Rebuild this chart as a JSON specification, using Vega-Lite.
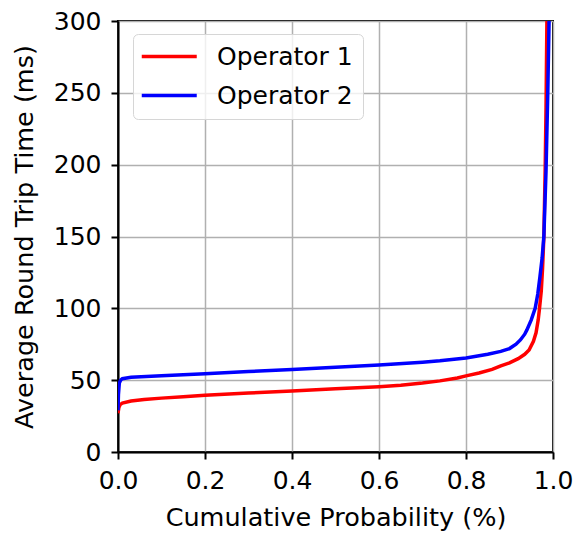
{
  "$schema": "https://vega.github.io/schema/vega-lite/v6.json",
  "width": 435,
  "height": 431,
  "autosize": {"type": "none"},
  "padding": {"left": 118, "top": 21, "right": 23, "bottom": 84},
  "background": "white",
  "config": {
    "font": "DejaVu Sans",
    "view": {"stroke": "black", "strokeWidth": 2},
    "axis": {
      "labelFont": "DejaVu Sans",
      "titleFont": "DejaVu Sans",
      "labelFontSize": 25,
      "titleFontSize": 25.5,
      "titleFontWeight": "normal",
      "labelColor": "black",
      "titleColor": "black",
      "domainColor": "black",
      "domainWidth": 2,
      "tickColor": "black",
      "tickWidth": 2,
      "tickSize": 7,
      "gridColor": "#b0b0b0",
      "gridWidth": 1.5,
      "gridOpacity": 1
    },
    "legend": {
      "labelFont": "DejaVu Sans",
      "labelFontSize": 25,
      "labelColor": "black"
    }
  },
  "data": {
    "values": [
      {"op": "Operator 1", "p": 0.0, "rtt": 27},
      {"op": "Operator 1", "p": 0.002, "rtt": 31},
      {"op": "Operator 1", "p": 0.005, "rtt": 33},
      {"op": "Operator 1", "p": 0.01, "rtt": 34},
      {"op": "Operator 1", "p": 0.03, "rtt": 35.5},
      {"op": "Operator 1", "p": 0.06, "rtt": 36.5},
      {"op": "Operator 1", "p": 0.1, "rtt": 37.5},
      {"op": "Operator 1", "p": 0.15, "rtt": 38.5},
      {"op": "Operator 1", "p": 0.2, "rtt": 39.5},
      {"op": "Operator 1", "p": 0.3, "rtt": 41},
      {"op": "Operator 1", "p": 0.4, "rtt": 42.5},
      {"op": "Operator 1", "p": 0.5, "rtt": 44},
      {"op": "Operator 1", "p": 0.6, "rtt": 45.5},
      {"op": "Operator 1", "p": 0.65, "rtt": 46.5},
      {"op": "Operator 1", "p": 0.7, "rtt": 48},
      {"op": "Operator 1", "p": 0.74, "rtt": 49.5},
      {"op": "Operator 1", "p": 0.78, "rtt": 51.5},
      {"op": "Operator 1", "p": 0.8, "rtt": 53},
      {"op": "Operator 1", "p": 0.83, "rtt": 55},
      {"op": "Operator 1", "p": 0.86, "rtt": 57.5},
      {"op": "Operator 1", "p": 0.88, "rtt": 60},
      {"op": "Operator 1", "p": 0.9, "rtt": 62},
      {"op": "Operator 1", "p": 0.92, "rtt": 65},
      {"op": "Operator 1", "p": 0.935, "rtt": 68},
      {"op": "Operator 1", "p": 0.945, "rtt": 71},
      {"op": "Operator 1", "p": 0.955, "rtt": 77},
      {"op": "Operator 1", "p": 0.961, "rtt": 83},
      {"op": "Operator 1", "p": 0.966, "rtt": 92},
      {"op": "Operator 1", "p": 0.969, "rtt": 100},
      {"op": "Operator 1", "p": 0.973, "rtt": 112},
      {"op": "Operator 1", "p": 0.976, "rtt": 128},
      {"op": "Operator 1", "p": 0.979, "rtt": 150},
      {"op": "Operator 1", "p": 0.982, "rtt": 196},
      {"op": "Operator 1", "p": 0.984, "rtt": 240},
      {"op": "Operator 1", "p": 0.986, "rtt": 300},
      {"op": "Operator 2", "p": 0.0, "rtt": 29},
      {"op": "Operator 2", "p": 0.001, "rtt": 40},
      {"op": "Operator 2", "p": 0.003, "rtt": 48},
      {"op": "Operator 2", "p": 0.006, "rtt": 50},
      {"op": "Operator 2", "p": 0.01, "rtt": 51},
      {"op": "Operator 2", "p": 0.03, "rtt": 52},
      {"op": "Operator 2", "p": 0.1, "rtt": 53},
      {"op": "Operator 2", "p": 0.2, "rtt": 54.5},
      {"op": "Operator 2", "p": 0.3, "rtt": 56},
      {"op": "Operator 2", "p": 0.4, "rtt": 57.5},
      {"op": "Operator 2", "p": 0.5, "rtt": 59},
      {"op": "Operator 2", "p": 0.6, "rtt": 60.5},
      {"op": "Operator 2", "p": 0.7, "rtt": 62.5},
      {"op": "Operator 2", "p": 0.74, "rtt": 63.5},
      {"op": "Operator 2", "p": 0.8, "rtt": 65.5},
      {"op": "Operator 2", "p": 0.85, "rtt": 68},
      {"op": "Operator 2", "p": 0.88, "rtt": 70},
      {"op": "Operator 2", "p": 0.9, "rtt": 72},
      {"op": "Operator 2", "p": 0.915, "rtt": 75},
      {"op": "Operator 2", "p": 0.925, "rtt": 78},
      {"op": "Operator 2", "p": 0.935, "rtt": 82},
      {"op": "Operator 2", "p": 0.94, "rtt": 85},
      {"op": "Operator 2", "p": 0.95, "rtt": 92},
      {"op": "Operator 2", "p": 0.959, "rtt": 100},
      {"op": "Operator 2", "p": 0.965, "rtt": 110},
      {"op": "Operator 2", "p": 0.97, "rtt": 122},
      {"op": "Operator 2", "p": 0.975, "rtt": 135},
      {"op": "Operator 2", "p": 0.979, "rtt": 150},
      {"op": "Operator 2", "p": 0.984, "rtt": 196},
      {"op": "Operator 2", "p": 0.988, "rtt": 250},
      {"op": "Operator 2", "p": 0.991, "rtt": 300}
    ]
  },
  "mark": {"type": "line", "strokeWidth": 3.5, "clip": true},
  "encoding": {
    "x": {
      "field": "p",
      "type": "quantitative",
      "scale": {"domain": [0, 1], "nice": false},
      "axis": {
        "title": "Cumulative Probability (%)",
        "values": [0, 0.2, 0.4, 0.6, 0.8, 1.0],
        "format": ".1f",
        "labelPadding": 9,
        "titlePadding": 12,
        "labelFlush": false
      }
    },
    "y": {
      "field": "rtt",
      "type": "quantitative",
      "scale": {"domain": [0, 300], "nice": false},
      "axis": {
        "title": "Average Round Trip Time (ms)",
        "values": [0, 50, 100, 150, 200, 250, 300],
        "labelPadding": 10,
        "titlePadding": 16,
        "labelFlush": false
      }
    },
    "color": {
      "field": "op",
      "type": "nominal",
      "scale": {"domain": ["Operator 1", "Operator 2"], "range": ["#ff0000", "#0000ff"]},
      "legend": {
        "title": null,
        "orient": "none",
        "legendX": 15,
        "legendY": 13,
        "symbolType": "M-2.75,0H8.25",
        "symbolSize": 100,
        "symbolStrokeWidth": 3.5,
        "labelOffset": 49,
        "rowPadding": 13,
        "padding": 10,
        "strokeColor": "#d6d6d6",
        "fillColor": "rgba(255,255,255,0.8)",
        "cornerRadius": 5
      }
    }
  }
}
